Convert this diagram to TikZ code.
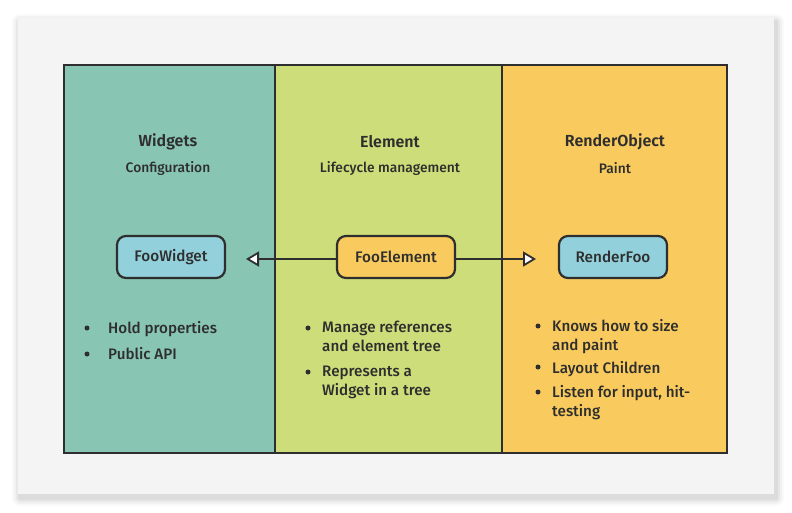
\documentclass[tikz,border=0pt]{standalone}
\usepackage{fontspec}
\setmainfont{Fira Sans Medium}[BoldFont={Fira Sans SemiBold}]
\usetikzlibrary{arrows.meta}
\definecolor{cardbg}{HTML}{F4F4F4}
\definecolor{teal}{HTML}{88C5B3}
\definecolor{lime}{HTML}{CDDD7A}
\definecolor{amber}{HTML}{F9CB5E}
\definecolor{sky}{HTML}{92D0DC}
\definecolor{ink}{HTML}{2E2E2E}
\tikzset{
  box/.style={draw=ink, line width=2.2pt, rounded corners=9pt, minimum width=108pt, minimum height=42pt, font=\fontsize{15.3}{17}\selectfont, text=ink},
  title/.style={font=\fontsize{16}{18}\selectfont\bfseries, text=ink},
  subtitle/.style={font=\fontsize{13.8}{16}\selectfont, text=ink},
  item/.style={anchor=north west, align=left, inner sep=0pt, font=\fontsize{15.2}{19}\selectfont, text=ink},
  dot/.style={circle, fill=ink, inner sep=0pt, minimum size=5pt},
  conn/.style={draw=ink, line width=2pt, -{Triangle[open, fill=white, length=13pt, width=15pt, line width=1.8pt]}}
}
\begin{document}
\begin{tikzpicture}[x=1pt,y=-1pt]
\useasboundingbox (0,0) rectangle (792,512);
\fill[white] (0,0) rectangle (792,512);
% shadow
\foreach \i/\o in {8/0.02,6/0.03,4/0.04,2/0.05}{
  \fill[black, opacity=\o, rounded corners=\i pt] (18-\i+2,18-\i+4) rectangle (774+\i+2,494+\i+4);
}
\fill[cardbg] (18,18) rectangle (774,494);
% panels
\fill[teal] (64,65) rectangle (275,453);
\fill[lime] (275,65) rectangle (502,453);
\fill[amber] (502,65) rectangle (727,453);
\draw[ink, line width=2pt] (64,65) rectangle (727,453);
\draw[ink, line width=2pt] (275,65) -- (275,453);
\draw[ink, line width=2pt] (502,65) -- (502,453);
% titles
\node[title] (t1) at (168,142) {Widgets};
\node[subtitle] (s1) at (168,168) {Configuration};
\node[title] (t2) at (390,142) {Element};
\node[subtitle] (s2) at (390,168) {Lifecycle management};
\node[title] (t3) at (615,142) {RenderObject};
\node[subtitle] (s3) at (615,168) {Paint};
% nodes
\node[box, fill=sky] (w) at (171,257) {FooWidget};
\node[box, fill=amber, minimum width=118pt] (e) at (396,257) {FooElement};
\node[box, fill=sky] (r) at (613,257) {RenderFoo};
\coordinate (wl) at (246,259);
\coordinate (rl) at (536,259);
\draw[conn] (e.west |- wl) -- (wl);
\draw[conn] (e.east |- rl) -- (rl);
% bullets left
\node[dot] (b1) at (87,328) {};
\node[item] (i1) at (108,321) {Hold properties};
\node[dot] (b2) at (87,354) {};
\node[item] (i2) at (108,347) {Public API};
% bullets middle
\node[dot] (b3) at (308,328) {};
\node[item] (i3) at (322,321) {Manage references\\and element tree};
\node[dot] (b4) at (308,372) {};
\node[item] (i4) at (322,366) {Represents a\\Widget in a tree};
% bullets right
\node[dot] (b5) at (538,326) {};
\node[item] (i5) at (552,319) {Knows how to size\\and paint};
\node[dot] (b6) at (538,367) {};
\node[item] (i6) at (552,361) {Layout Children};
\node[dot] (b7) at (538,392) {};
\node[item] (i7) at (552,385) {Listen for input, hit-\\testing};
\end{tikzpicture}
\end{document}
